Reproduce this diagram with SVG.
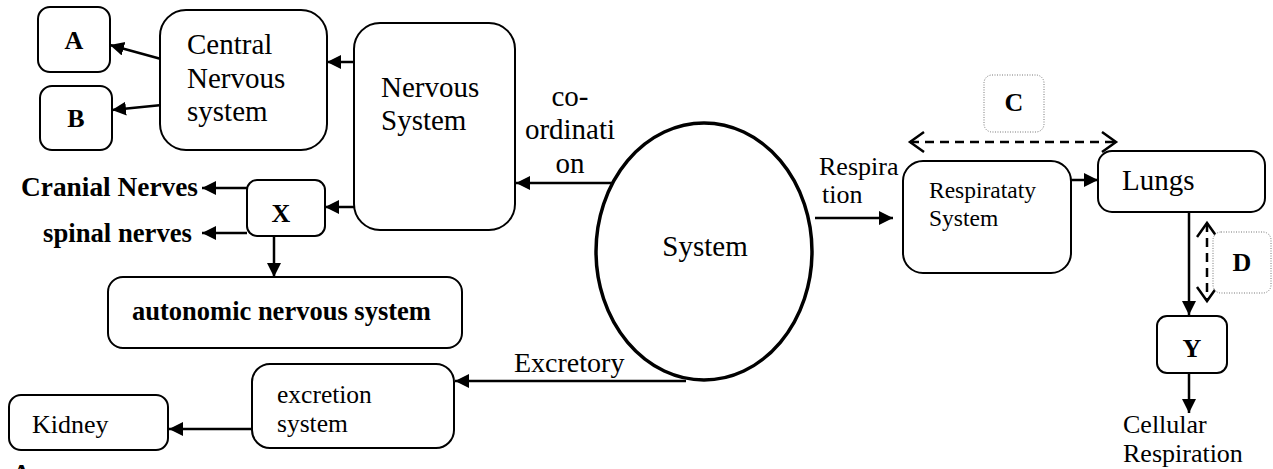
<svg xmlns="http://www.w3.org/2000/svg" width="1273" height="469" viewBox="0 0 1273 469">
  <style>
    .box { fill: #fff; stroke: #000; stroke-width: 2; }
    .tag { fill: #fff; stroke: #777; stroke-width: 1; stroke-dasharray: 1 1.5; }
    .t { font-family: "Liberation Serif", "Times New Roman", serif; fill: #000; }
    .b { font-family: "Liberation Serif", "Times New Roman", serif; font-weight: bold; fill: #000; }
    .c { text-anchor: middle; }
    .line { fill: none; stroke: #000; stroke-width: 2.5; }
    .dash { fill: none; stroke: #000; stroke-width: 2.5; stroke-dasharray: 9 6; }
  </style>
  <defs>
    <marker id="arrow" markerUnits="userSpaceOnUse" markerWidth="16" markerHeight="16" refX="14" refY="7" orient="auto">
      <path d="M0,0 L14,7 L0,14 Z" fill="#000"/>
    </marker>
    <marker id="open" markerUnits="userSpaceOnUse" markerWidth="20" markerHeight="24" refX="16" refY="11" orient="auto-start-reverse">
      <path d="M2,1 L16,11 L2,21" fill="none" stroke="#000" stroke-width="2.5"/>
    </marker>
  </defs>

  <!-- connectors -->
  <g id="connectors">
    <line class="line" x1="172" y1="62" x2="110" y2="45" marker-end="url(#arrow)"/>
    <line class="line" x1="172" y1="104" x2="112" y2="110" marker-end="url(#arrow)"/>
    <line class="line" x1="354" y1="62" x2="327" y2="62" marker-end="url(#arrow)"/>
    <line class="line" x1="354" y1="207" x2="325" y2="207" marker-end="url(#arrow)"/>
    <line class="line" x1="247" y1="188" x2="202" y2="188" marker-end="url(#arrow)"/>
    <line class="line" x1="247" y1="233" x2="202" y2="233" marker-end="url(#arrow)"/>
    <line class="line" x1="274" y1="236" x2="274" y2="277" marker-end="url(#arrow)"/>
    <line class="line" x1="613" y1="183" x2="516" y2="183" marker-end="url(#arrow)"/>
    <line class="line" x1="815" y1="218" x2="893" y2="218" marker-end="url(#arrow)"/>
    <line class="line" x1="1059" y1="180" x2="1098" y2="180" marker-end="url(#arrow)"/>
    <line class="line" x1="1189" y1="212" x2="1189" y2="315" marker-end="url(#arrow)"/>
    <line class="line" x1="1189" y1="373" x2="1189" y2="413" marker-end="url(#arrow)"/>
    <line class="line" x1="686" y1="381" x2="455" y2="381" marker-end="url(#arrow)"/>
    <line class="line" x1="253" y1="429" x2="169" y2="429" marker-end="url(#arrow)"/>
    <line class="dash" x1="910" y1="142" x2="1116" y2="142" marker-start="url(#open)" marker-end="url(#open)"/>
    <line class="dash" x1="1207" y1="223" x2="1207" y2="301" marker-start="url(#open)" marker-end="url(#open)"/>
  </g>

  <!-- nodes -->
  <g id="node-a">
    <rect class="box" x="38" y="7" width="72" height="65" rx="12"/>
    <text class="b c" x="74" y="49" font-size="26">A</text>
  </g>
  <g id="node-b">
    <rect class="box" x="40" y="86" width="72" height="64" rx="12"/>
    <text class="b c" x="76" y="127" font-size="26">B</text>
  </g>
  <g id="node-cns">
    <rect class="box" x="160" y="10" width="167" height="140" rx="26"/>
    <text class="t" x="187" y="54" font-size="29">Central</text>
    <text class="t" x="187" y="88" font-size="29">Nervous</text>
    <text class="t" x="187" y="121" font-size="29">system</text>
  </g>
  <g id="node-nervous">
    <rect class="box" x="354" y="23" width="161" height="207" rx="26"/>
    <text class="t" x="381" y="97" font-size="29">Nervous</text>
    <text class="t" x="381" y="130" font-size="29">System</text>
  </g>
  <g id="node-x">
    <rect class="box" x="247" y="180" width="78" height="56" rx="10"/>
    <text class="b c" x="281" y="222" font-size="26">X</text>
  </g>
  <g id="node-cranial">
    <text class="b" x="21" y="196" font-size="26.5" textLength="177" lengthAdjust="spacingAndGlyphs">Cranial Nerves</text>
  </g>
  <g id="node-spinal">
    <text class="b" x="43" y="242" font-size="26.5" textLength="149" lengthAdjust="spacingAndGlyphs">spinal nerves</text>
  </g>
  <g id="node-autonomic">
    <rect class="box" x="108" y="277" width="354" height="71" rx="15"/>
    <text class="b" x="132" y="320" font-size="26.5">autonomic nervous system</text>
  </g>
  <g id="node-system">
    <ellipse cx="704" cy="251.5" rx="108" ry="128.5" fill="#fff" stroke="#000" stroke-width="3.5"/>
    <text class="t c" x="705" y="256" font-size="29">System</text>
  </g>
  <g id="label-coordination">
    <text class="t c" x="570" y="106" font-size="29">co-</text>
    <text class="t c" x="570" y="139" font-size="29">ordinati</text>
    <text class="t c" x="570" y="173" font-size="29">on</text>
  </g>
  <g id="label-respiration">
    <text class="t" x="819" y="175" font-size="26">Respira</text>
    <text class="t" x="822" y="203" font-size="26">tion</text>
  </g>
  <g id="node-respiratory">
    <rect class="box" x="903" y="161" width="168" height="112" rx="20"/>
    <text class="t" x="929" y="198" font-size="23.5">Respirataty</text>
    <text class="t" x="929" y="226" font-size="23.5">System</text>
  </g>
  <g id="node-c">
    <rect class="tag" x="984" y="75" width="60" height="57" rx="8"/>
    <text class="b c" x="1014" y="111" font-size="26">C</text>
  </g>
  <g id="node-lungs">
    <rect class="box" x="1098" y="151" width="167" height="61" rx="14"/>
    <text class="t" x="1122" y="190" font-size="29">Lungs</text>
  </g>
  <g id="node-d">
    <rect class="tag" x="1213" y="232" width="58" height="61" rx="8"/>
    <text class="b c" x="1242" y="271" font-size="26">D</text>
  </g>
  <g id="node-y">
    <rect class="box" x="1157" y="316" width="70" height="57" rx="10"/>
    <text class="b c" x="1192" y="357" font-size="26">Y</text>
  </g>
  <g id="node-cellular">
    <text class="t" x="1123" y="433" font-size="26">Cellular</text>
    <text class="t" x="1123" y="462" font-size="26">Respiration</text>
  </g>
  <g id="label-excretory">
    <text class="t" x="514" y="372" font-size="28">Excretory</text>
  </g>
  <g id="node-excretion">
    <rect class="box" x="252" y="364" width="202" height="84" rx="18"/>
    <text class="t" x="277" y="403" font-size="25.5">excretion</text>
    <text class="t" x="277" y="432" font-size="25.5">system</text>
  </g>
  <g id="node-kidney">
    <rect class="box" x="9" y="395" width="159" height="55" rx="12"/>
    <text class="t" x="32" y="433" font-size="26">Kidney</text>
  </g>
  <!-- letter running off the bottom edge -->
  <g id="label-a-lower">
    <text class="b" x="12" y="482" font-size="26">A</text>
  </g>
</svg>
